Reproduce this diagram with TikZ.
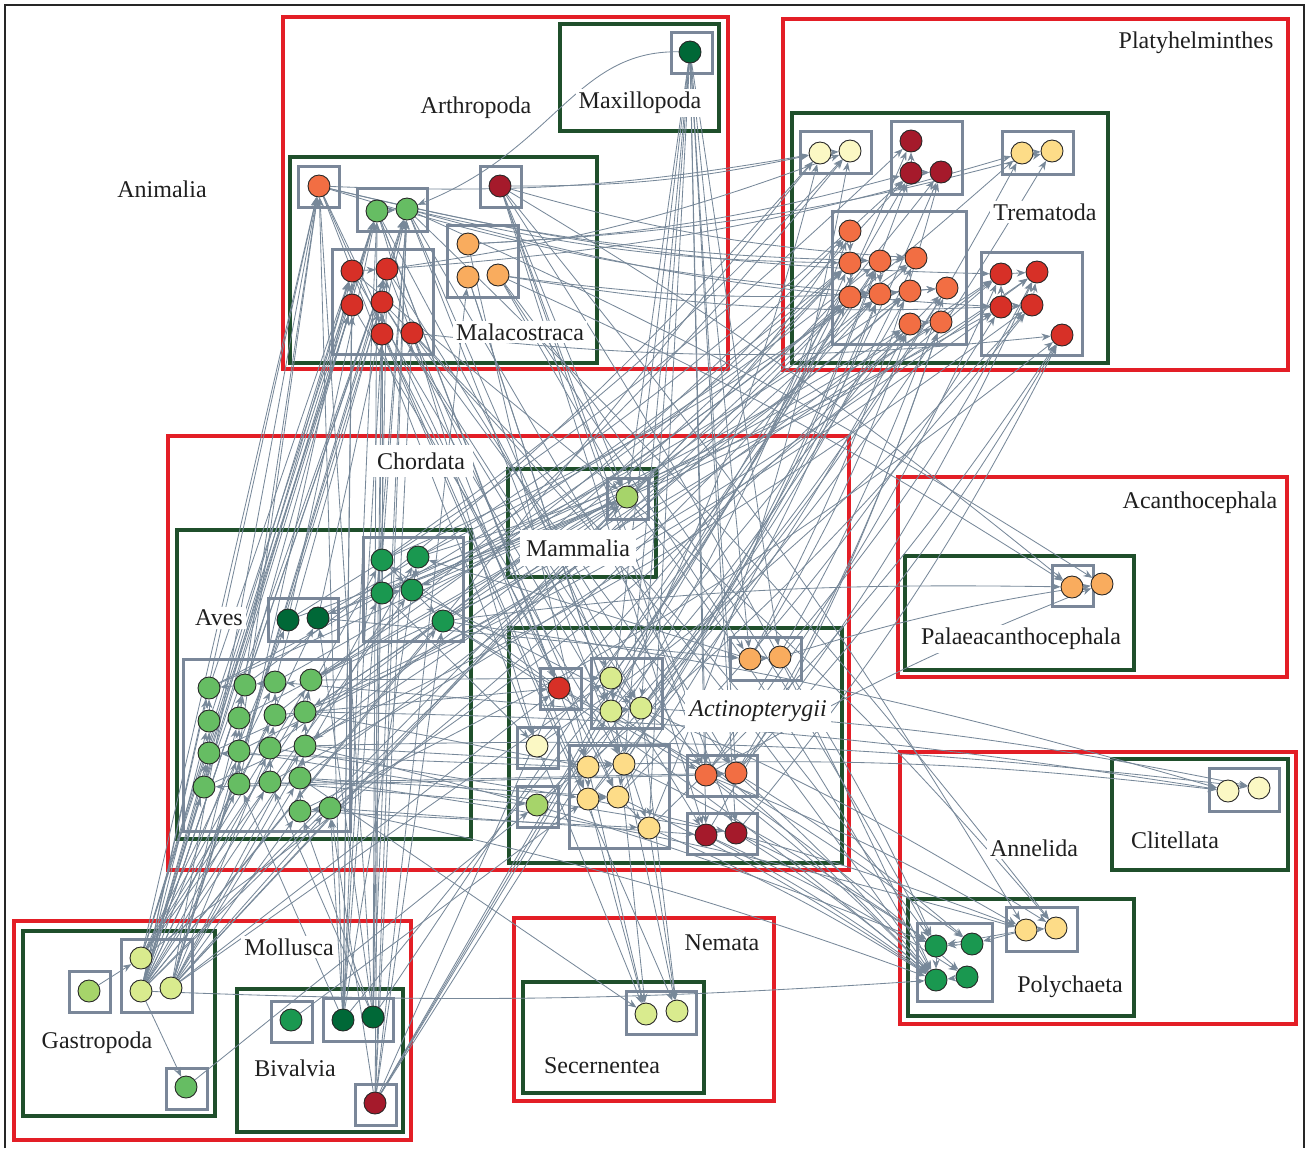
\documentclass[tikz,border=0pt]{standalone}
\usepackage{fontspec}
\setmainfont{Liberation Serif}
\usetikzlibrary{arrows.meta,shapes.geometric}
\definecolor{redc}{HTML}{E31E26}
\definecolor{grnc}{HTML}{1F4F2B}
\definecolor{gryc}{HTML}{7A8799}
\definecolor{edgc}{HTML}{778899}
\definecolor{cA}{HTML}{A51A2B}
\definecolor{cB}{HTML}{D73027}
\definecolor{cC}{HTML}{F26E43}
\definecolor{cD}{HTML}{F9AC5E}
\definecolor{cE}{HTML}{FDDC88}
\definecolor{cF}{HTML}{FBF8C4}
\definecolor{cG}{HTML}{D9EB8E}
\definecolor{cH}{HTML}{A6D46A}
\definecolor{cI}{HTML}{66BD63}
\definecolor{cJ}{HTML}{1A9850}
\definecolor{cK}{HTML}{006837}
\pgfdeclarelayer{boxlayer}
\pgfdeclarelayer{edgelayer}
\pgfsetlayers{boxlayer,edgelayer,main}
\begin{document}
\begin{tikzpicture}[x=0.5pt,y=-0.5pt,
  sp/.style={circle,draw=black!85,line width=0.45pt,minimum size=11pt,inner sep=0pt},
  lnk/.style={draw=edgc,line width=0.42pt,-{Stealth[length=4.5pt,width=3.5pt]}},
  rbox/.style={draw=redc,line width=2.2pt},
  gbox/.style={draw=grnc,line width=2pt},
  sbox/.style={draw=gryc,line width=1.5pt},
  lab/.style={font=\fontsize{12}{14}\selectfont,text=black!88,fill=white,inner sep=1.5pt}]
\useasboundingbox (0,0) rectangle (1309,1148);
\draw[line width=1.4pt,black!85] (5,1148) -- (5,5) -- (1304,5) -- (1304,1148);

% ---------- species nodes ----------
% Arthropoda
\node[sp,fill=cK] (mx) at (690,52) {};
\node[sp,fill=cC] (mo) at (319,186) {};
\node[sp,fill=cI] (mg1) at (377,211) {};
\node[sp,fill=cI] (mg2) at (407,209) {};
\node[sp,fill=cA] (md) at (500,186) {};
\node[sp,fill=cD] (ml1) at (468,244) {};
\node[sp,fill=cD] (ml2) at (468,277) {};
\node[sp,fill=cD] (ml3) at (498,275) {};
\node[sp,fill=cB] (mr1) at (352,271) {};
\node[sp,fill=cB] (mr2) at (387,269) {};
\node[sp,fill=cB] (mr3) at (352,305) {};
\node[sp,fill=cB] (mr4) at (382,302) {};
\node[sp,fill=cB] (mr5) at (382,334) {};
\node[sp,fill=cB] (mr6) at (412,333) {};
% Platyhelminthes
\node[sp,fill=cF] (tp1) at (820,153) {};
\node[sp,fill=cF] (tp2) at (850,151) {};
\node[sp,fill=cA] (td1) at (911,141) {};
\node[sp,fill=cA] (td2) at (911,173) {};
\node[sp,fill=cA] (td3) at (941,172) {};
\node[sp,fill=cE] (ty1) at (1022,153) {};
\node[sp,fill=cE] (ty2) at (1052,151) {};
\node[sp,fill=cC] (to1) at (850,231) {};
\node[sp,fill=cC] (to2) at (850,263) {};
\node[sp,fill=cC] (to3) at (880,261) {};
\node[sp,fill=cC] (to4) at (916,258) {};
\node[sp,fill=cC] (to5) at (850,297) {};
\node[sp,fill=cC] (to6) at (880,294) {};
\node[sp,fill=cC] (to7) at (910,291) {};
\node[sp,fill=cC] (to8) at (947,288) {};
\node[sp,fill=cC] (to9) at (910,324) {};
\node[sp,fill=cC] (to10) at (941,322) {};
\node[sp,fill=cB] (tr1) at (1001,274) {};
\node[sp,fill=cB] (tr2) at (1037,272) {};
\node[sp,fill=cB] (tr3) at (1001,307) {};
\node[sp,fill=cB] (tr4) at (1032,305) {};
\node[sp,fill=cB] (tr5) at (1062,335) {};
% Aves
\node[sp,fill=cK] (ad1) at (288,620) {};
\node[sp,fill=cK] (ad2) at (318,618) {};
\node[sp,fill=cJ] (am1) at (382,560) {};
\node[sp,fill=cJ] (am2) at (418,557) {};
\node[sp,fill=cJ] (am3) at (382,593) {};
\node[sp,fill=cJ] (am4) at (412,590) {};
\node[sp,fill=cJ] (am5) at (443,621) {};
\node[sp,fill=cI] (al1) at (209,688) {};
\node[sp,fill=cI] (al2) at (245,685) {};
\node[sp,fill=cI] (al3) at (275,682) {};
\node[sp,fill=cI] (al4) at (311,680) {};
\node[sp,fill=cI] (al5) at (209,721) {};
\node[sp,fill=cI] (al6) at (239,718) {};
\node[sp,fill=cI] (al7) at (275,715) {};
\node[sp,fill=cI] (al8) at (305,712) {};
\node[sp,fill=cI] (al9) at (209,753) {};
\node[sp,fill=cI] (al10) at (239,751) {};
\node[sp,fill=cI] (al11) at (270,748) {};
\node[sp,fill=cI] (al12) at (305,746) {};
\node[sp,fill=cI] (al13) at (204,787) {};
\node[sp,fill=cI] (al14) at (239,784) {};
\node[sp,fill=cI] (al15) at (270,782) {};
\node[sp,fill=cI] (al16) at (300,778) {};
\node[sp,fill=cI] (al17) at (300,811) {};
\node[sp,fill=cI] (al18) at (330,808) {};
% Mammalia
\node[sp,fill=cH] (mm) at (627,497) {};
% Actinopterygii
\node[sp,fill=cD] (fo1) at (750,659) {};
\node[sp,fill=cD] (fo2) at (780,657) {};
\node[sp,fill=cB] (fr) at (559,688) {};
\node[sp,fill=cG] (fy1) at (611,678) {};
\node[sp,fill=cG] (fy2) at (611,711) {};
\node[sp,fill=cG] (fy3) at (641,708) {};
\node[sp,fill=cF] (fp) at (537,746) {};
\node[sp,fill=cE] (fq1) at (588,767) {};
\node[sp,fill=cE] (fq2) at (624,764) {};
\node[sp,fill=cE] (fq3) at (588,799) {};
\node[sp,fill=cE] (fq4) at (618,797) {};
\node[sp,fill=cE] (fq5) at (649,828) {};
\node[sp,fill=cH] (fg) at (537,805) {};
\node[sp,fill=cC] (fe1) at (706,775) {};
\node[sp,fill=cC] (fe2) at (736,773) {};
\node[sp,fill=cA] (fd1) at (706,835) {};
\node[sp,fill=cA] (fd2) at (736,833) {};
% Acanthocephala
\node[sp,fill=cD] (ac1) at (1072,587) {};
\node[sp,fill=cD] (ac2) at (1102,584) {};
% Annelida
\node[sp,fill=cF] (cl1) at (1228,791) {};
\node[sp,fill=cF] (cl2) at (1259,788) {};
\node[sp,fill=cJ] (pg1) at (936,946) {};
\node[sp,fill=cJ] (pg2) at (972,944) {};
\node[sp,fill=cJ] (pg3) at (936,980) {};
\node[sp,fill=cJ] (pg4) at (967,977) {};
\node[sp,fill=cE] (py1) at (1026,930) {};
\node[sp,fill=cE] (py2) at (1056,928) {};
% Nemata
\node[sp,fill=cG] (ne1) at (646,1014) {};
\node[sp,fill=cG] (ne2) at (677,1011) {};
% Mollusca
\node[sp,fill=cH] (ga) at (89,991) {};
\node[sp,fill=cG] (gb1) at (141,958) {};
\node[sp,fill=cG] (gb2) at (141,991) {};
\node[sp,fill=cG] (gb3) at (171,988) {};
\node[sp,fill=cI] (gc) at (186,1087) {};
\node[sp,fill=cJ] (bv) at (291,1020) {};
\node[sp,fill=cK] (bd1) at (343,1020) {};
\node[sp,fill=cK] (bd2) at (373,1017) {};
\node[sp,fill=cA] (br) at (375,1103) {};

% ---------- labels ----------
\node[lab] (lAnim) at (162,189) {Animalia};
\node[lab] (lArth) at (476,108) {Arthropoda};
\node[lab] (lMaxi) at (640,103) {Maxillopoda};
\node[lab] (lMala) at (520,332) {Malacostraca};
\node[lab] (lPlat) at (1196,43) {Platyhelminthes};
\node[lab] (lTrem) at (1045,212) {Trematoda};
\node[lab,inner sep=4pt] (lChor) at (421,461) {Chordata};
\node[lab] (lAves) at (219,618) {Aves};
\node[lab,inner xsep=3pt,inner ysep=5pt] (lMamm) at (578,548) {Mammalia};
\node[lab,inner xsep=2pt,inner ysep=5pt] (lActi) at (758,711) {\itshape Actinopterygii};
\node[lab] (lAcan) at (1200,503) {Acanthocephala};
\node[lab] (lPala) at (1021,639) {Palaeacanthocephala};
\node[lab] (lAnne) at (1034,848) {Annelida};
\node[lab] (lClit) at (1175,840) {Clitellata};
\node[lab] (lPoly) at (1070,987) {Polychaeta};
\node[lab] (lMoll) at (289,947) {Mollusca};
\node[lab] (lGast) at (97,1043) {Gastropoda};
\node[lab] (lBiva) at (295,1068) {Bivalvia};
\node[lab] (lNema) at (722,943) {Nemata};
\node[lab] (lSece) at (602,1066) {Secernentea};

% ---------- boxes ----------
\begin{pgfonlayer}{boxlayer}
\draw[rbox] (283,17) rectangle (728,369);
\draw[rbox] (783,19) rectangle (1288,370);
\draw[rbox] (168,436) rectangle (849,870);
\draw[rbox] (898,477) rectangle (1287,677);
\draw[rbox] (900,752) rectangle (1296,1024);
\draw[rbox] (514,918) rectangle (774,1101);
\draw[rbox] (14,921) rectangle (411,1140);
\draw[gbox] (560,24) rectangle (719,131);
\draw[gbox] (290,157) rectangle (597,363);
\draw[gbox] (792,113) rectangle (1108,363);
\draw[gbox] (177,530) rectangle (471,839);
\draw[gbox] (508,469) rectangle (656,577);
\draw[gbox] (509,628) rectangle (842,863);
\draw[gbox] (905,556) rectangle (1134,670);
\draw[gbox] (1112,759) rectangle (1288,870);
\draw[gbox] (908,899) rectangle (1134,1016);
\draw[gbox] (523,982) rectangle (704,1093);
\draw[gbox] (23,931) rectangle (215,1116);
\draw[gbox] (237,989) rectangle (403,1132);
\foreach \p/\q in {671/32,298/166,480/166,607/478,540/668,517/727,517/786,1052/565,69/971,166/1068,271/1001,355/1084}
  \draw[sbox] (\p,\q) rectangle ++(41,41);
\draw[sbox] (357,188) rectangle (427,231);
\draw[sbox] (447,225) rectangle (518,297);
\draw[sbox] (332,249) rectangle (433,354);
\draw[sbox] (800,131) rectangle (871,173);
\draw[sbox] (891,121) rectangle (962,194);
\draw[sbox] (1002,131) rectangle (1073,174);
\draw[sbox] (832,211) rectangle (966,344);
\draw[sbox] (981,252) rectangle (1082,355);
\draw[sbox] (268,598) rectangle (338,641);
\draw[sbox] (363,537) rectangle (463,641);
\draw[sbox] (183,659) rectangle (350,831);
\draw[sbox] (730,637) rectangle (801,680);
\draw[sbox] (591,658) rectangle (662,728);
\draw[sbox] (569,745) rectangle (669,848);
\draw[sbox] (687,755) rectangle (757,796);
\draw[sbox] (687,813) rectangle (757,854);
\draw[sbox] (1209,768) rectangle (1279,811);
\draw[sbox] (917,923) rectangle (992,1001);
\draw[sbox] (1006,907) rectangle (1077,951);
\draw[sbox] (626,991) rectangle (696,1034);
\draw[sbox] (121,939) rectangle (192,1012);
\draw[sbox] (323,998) rectangle (393,1041);
\end{pgfonlayer}

% ---------- links ----------
\begin{pgfonlayer}{edgelayer}
\draw[lnk] (mx) .. controls (575,50) and (555,150) .. (mg2);
% Mollusca upwards
\foreach \a/\b in {gb1/mg1,gb1/mr1,gb1/mr3,gb1/mo,gb1/al3,gb1/al4,gb1/al7,
  gb2/mg1,gb2/mg2,gb2/mr1,gb2/mr2,gb2/mr3,gb2/mo,gb2/al1,gb2/al2,gb2/al5,gb2/al9,gb2/al13,gb2/al14,gb2/al15,gb2/ad1,gb2/am1,gb2/am5,gb2/tp1,gb2/to5,
  gb3/mg2,gb3/mr4,gb3/mr2,gb3/mo,gb3/al6,gb3/al10,gb3/al11,gb3/al16,gb3/al18,gb3/am3,gb3/to2,gb3/fy1,gb3/mm,gb3/fr,
  gb1/al8,gb1/am4,gb2/al12,gb3/al17,gb3/am2,gb2/ad2,
  bd1/mg1,bd1/mg2,bd1/mr1,bd1/mr3,bd1/mr5,bd1/mo,bd1/al14,bd1/al18,bd1/am2,bd1/to9,
  bd2/mg1,bd2/mg2,bd2/mr2,bd2/mr4,bd2/mo,bd2/al17,bd2/al15,bd2/to3,bd2/ad2,
  br/mg2,br/mr4,br/mr6,br/ml2,br/al18,br/am5,br/fq1,br/to5,br/fy2,br/fr,br/td2,
  bv/fq3,gc/fg,ga/gb1,gb2/gc}
  \draw[lnk] (\a) -- (\b);
% Aves to Malacostraca, Malacostraca to Actinopterygii, Maxillopoda
\foreach \a/\b in {al1/mr1,al2/mg1,al5/mg1,al9/mr3,al13/mr2,al3/mg2,ad1/mg1,ad2/mg2,am1/mg2,am3/mr4,al10/mo,al6/mo,al14/mr1,
  mg1/fq1,mg2/fy1,mr2/fq3,mr4/fy3,md/fe1,md/fd1,ml2/fq5,ml3/fo1,mo/fr,mg2/fq2,mr6/fq4,mg1/fp,md/fd2,mg2/fe2,
  mr1/fy2,mr3/fq2,mr5/fq4,mg1/fr,mg1/fy3,mr2/fe1,mr4/fd1,mr6/fe2,ml2/fy2,ml1/fq1,mo/fq3,mo/fp,md/mm,ml3/mm,
  mx/fo1,mx/fo2,mx/fy2,mx/fq2,mx/fq5,mx/fe1,mx/fe2,mx/fd1,mx/fd2,mx/fy3,mx/mm}
  \draw[lnk] (\a) -- (\b);
% to Trematoda
\foreach \a/\b in {al4/to1,fq1/to1,mm/to1,al1/to2,al8/to2,fy1/to2,am2/to3,fq2/to3,fy3/to4,al12/to4,
  al16/to5,fp/to5,am4/to5,al6/to6,fq4/to6,gb1/to6,mm/to7,fy2/to7,am5/to7,fg/to8,fe1/to8,al18/to8,
  al10/to9,fq3/to9,fd1/to10,am3/to10,fe2/to10,al2/tp1,mo/tp1,fy2/tp1,am1/tp2,al7/tp2,fq5/tp2,
  ad1/td1,fy1/td1,ad2/td2,fq2/td2,al11/td2,mm/td3,fo1/td3,fy3/ty1,al3/ty1,mr2/ty1,fq1/ty2,ml1/ty2,
  am3/tr1,fe1/tr1,al15/tr1,fo2/tr2,mm/tr2,al9/tr2,fq4/tr3,am2/tr3,fp/tr4,al13/tr4,
  fd2/tr5,fe2/tr5,al17/tr5,fq5/tr5,
  am4/to2,am1/to4,al4/tr1,ad2/to7,ad1/to9,al8/tr3,fr/to3,fy3/to6,fo1/to9,fe2/tr2,fg/tr4,fq3/td3,
  mo/to3,mo/tr1,mo/to6,mg2/to2,mg2/tr3,md/to4,ml3/to8,mr2/tp2,ml1/td2,md/tp1,ml3/tr4,mr6/tr5}
  \draw[lnk] (\a) to[bend right=6] (\b);
% to Annelida, Acanthocephala
\foreach \a/\b in {fe1/pg3,fe2/pg3,fd1/pg3,fd2/pg3,fq5/pg3,fy3/pg3,mr6/pg3,md/pg3,mm/pg3,al18/pg3,am5/pg3,fq4/pg3,
  fo2/pg1,fd2/pg1,fq2/pg1,ml3/pg1,al12/pg1,fe2/pg2,fr/pg2,fy2/pg4,fd1/pg4,
  fe1/py1,al16/py1,fq3/py1,md/py1,mg2/py2,fy3/py2,mm/py2,mr4/pg1,
  al8/cl1,fq2/cl1,am5/cl1,fy3/cl2,al12/cl2,
  am5/ac1,ml3/ac1,md/ac1,fo2/ac2,mg2/ac2,fe1/ac2}
  \draw[lnk] (\a) to[bend left=4] (\b);
\draw[lnk] (gb2) to[bend right=3] (pg3);
\foreach \a/\b in {fp/ne1,fq1/ne1,fq3/ne1,fy1/ne1,fq2/ne2,fq5/ne2,fy3/ne2,mr5/ne2,al16/ne1,
  mm/al4,mm/al8,mm/am4,mm/ad2,mm/al12,mr1/mm,al1/mm,gb2/mm,
  al4/fy1,al8/fq1,al12/fq2,al16/fq4,al18/fd1,am4/fy3,am5/fe1,ad2/fo1,al7/fr,al11/fq3,al15/fg,al17/fq5,
  am3/fp,al14/fe2,al10/fd2,fy2/al3,fq1/al9,fe1/al13,fr/am1,fo1/am2}
  \draw[lnk] (\a) -- (\b);
% within groups
\foreach \a/\b in {al2/al1,al5/al1,al6/al2,al9/al5,al10/al6,al13/al9,al14/al10,al11/al7,al15/al11,al16/al12,
  al17/al16,al18/al17,al7/al3,al8/al4,al3/al2,al12/al8,am1/am4,am3/am4,am4/am5,am2/am4,
  to1/to2,to3/to4,to5/to6,to6/to7,to7/to8,to9/to10,to2/to5,to3/to6,
  tr1/tr2,tr3/tr4,tr4/tr2,tr3/tr1,td2/td3,td2/td1,ty1/ty2,tp1/tp2,
  fo1/fo2,fe1/fe2,fy2/fy3,fy1/fy3,fq1/fq2,fq3/fq4,fq4/fq5,fq1/fq3,fq2/fq4,
  mg1/mg2,mr1/mr2,py1/py2,py1/pg1,py1/pg2,pg2/pg1,pg4/pg3,pg1/pg3}
  \draw[lnk] (\a) -- (\b);
\end{pgfonlayer}
\end{tikzpicture}
\end{document}
